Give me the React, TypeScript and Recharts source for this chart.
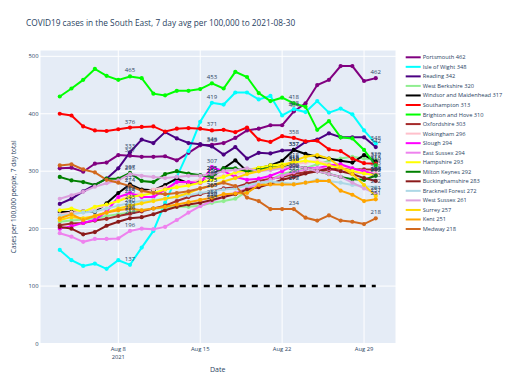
import React from "react";
import { LineChart, Line, XAxis, YAxis, CartesianGrid, LabelList } from "recharts";

// Day of August 2021
const days = [3, 4, 5, 6, 7, 8, 9, 10, 11, 12, 13, 14, 15, 16, 17, 18, 19, 20, 21, 22, 23, 24, 25, 26, 27, 28, 29, 30];

const portsmouth = [305, 306, 299, 313, 315, 328, 327, 325, 325, 326, 319, 332, 345, 346, 349, 358, 371, 374, 380, 380, 404, 418, 450, 459, 483, 483, 457, 462];
const isleOfWight = [163, 145, 135, 139, 130, 145, 137, 167, 196, 245, 290, 335, 386, 419, 416, 437, 437, 425, 431, 397, 408, 403, 422, 402, 409, 399, 371, 348];
const reading = [243, 252, 265, 276, 287, 305, 333, 355, 349, 368, 357, 349, 347, 343, 329, 342, 322, 332, 331, 336, 337, 351, 355, 366, 359, 359, 359, 342];
const westBerkshire = [212, 214, 216, 218, 222, 225, 228, 232, 235, 236, 238, 238, 240, 245, 248, 252, 265, 275, 285, 295, 300, 305, 312, 318, 322, 325, 322, 320];
const windsor = [229, 229, 230, 229, 244, 262, 277, 268, 267, 276, 287, 279, 282, 295, 305, 319, 300, 305, 310, 318, 337, 330, 325, 322, 318, 315, 328, 317];
const southampton = [400, 397, 378, 371, 370, 373, 376, 377, 378, 369, 374, 375, 374, 371, 372, 368, 376, 355, 351, 361, 358, 352, 353, 338, 335, 322, 314, 313];
const brighton = [430, 444, 459, 478, 466, 459, 465, 462, 435, 432, 440, 440, 443, 453, 444, 473, 464, 436, 422, 428, 418, 412, 372, 387, 359, 357, 337, 310];
const oxfordshire = [206, 209, 210, 214, 217, 222, 226, 230, 235, 240, 248, 255, 260, 265, 270, 272, 278, 283, 287, 290, 295, 298, 300, 302, 305, 304, 303, 303];
const wokingham = [225, 228, 230, 235, 240, 250, 258, 262, 268, 272, 275, 280, 285, 290, 292, 295, 298, 300, 305, 310, 312, 315, 318, 312, 308, 305, 300, 296];
const slough = [200, 204, 210, 215, 230, 255, 262, 255, 255, 268, 281, 281, 279, 307, 300, 290, 285, 287, 292, 300, 310, 305, 305, 310, 312, 305, 300, 294];
const eastSussex = [192, 186, 177, 182, 182, 183, 196, 200, 199, 203, 215, 228, 239, 248, 255, 262, 270, 278, 285, 292, 298, 303, 305, 304, 300, 298, 296, 294];
const hampshire = [232, 235, 229, 238, 242, 248, 255, 258, 262, 268, 272, 275, 280, 285, 290, 298, 302, 306, 310, 312, 315, 318, 315, 310, 305, 300, 296, 293];
const miltonKeynes = [290, 284, 281, 276, 287, 287, 297, 283, 281, 295, 300, 296, 293, 290, 305, 305, 300, 302, 306, 308, 310, 305, 300, 295, 290, 286, 285, 292];
const buckinghamshire = [203, 200, 190, 194, 205, 212, 218, 220, 225, 232, 238, 242, 245, 250, 255, 260, 268, 272, 278, 285, 290, 296, 300, 305, 300, 295, 288, 283];
const bracknellForest = [223, 225, 228, 230, 235, 240, 245, 248, 250, 252, 255, 258, 262, 265, 268, 270, 275, 280, 282, 280, 278, 280, 285, 283, 280, 276, 274, 272];
const westSussex = [252, 258, 264, 273, 279, 284, 295, 292, 290, 288, 290, 292, 292, 295, 300, 302, 305, 300, 302, 305, 310, 305, 300, 295, 290, 280, 270, 261];
const surrey = [215, 220, 218, 222, 228, 235, 240, 244, 248, 252, 256, 262, 270, 275, 282, 288, 295, 300, 305, 308, 318, 325, 328, 322, 307, 295, 276, 257];
const kent = [218, 225, 215, 222, 228, 232, 235, 232, 235, 238, 242, 246, 250, 254, 260, 261, 262, 276, 277, 277, 277, 280, 283, 283, 266, 259, 248, 251];
const medway = [310, 312, 303, 298, 285, 280, 274, 266, 262, 260, 262, 265, 270, 275, 280, 274, 254, 248, 234, 234, 234, 219, 214, 223, 214, 212, 208, 218];
const threshold = [100, 100, 100, 100, 100, 100, 100, 100, 100, 100, 100, 100, 100, 100, 100, 100, 100, 100, 100, 100, 100, 100, 100, 100, 100, 100, 100, 100];

const seriesNames = [
  "Portsmouth", "Isle of Wight", "Reading", "West Berkshire", "Windsor and Maidenhead",
  "Southampton", "Brighton and Hove", "Oxfordshire", "Wokingham", "Slough", "East Sussex",
  "Hampshire", "Milton Keynes", "Buckinghamshire", "Bracknell Forest", "West Sussex",
  "Surrey", "Kent", "Medway",
];
const seriesValues = [
  portsmouth, isleOfWight, reading, westBerkshire, windsor, southampton, brighton,
  oxfordshire, wokingham, slough, eastSussex, hampshire, miltonKeynes, buckinghamshire,
  bracknellForest, westSussex, surrey, kent, medway,
];
const seriesColors = [
  "#800080", "#00FFFF", "#4B0082", "#90EE90", "#000000", "#FF0000", "#00FF00",
  "#A52A2A", "#FFC0CB", "#FF00FF", "#EE82EE", "#FFFF00", "#008000", "#8B1A1A",
  "#ADD8E6", "#DDA0DD", "#FFD700", "#FFA500", "#D2691E",
];
const xTicks = [8, 15, 22, 29];
const yTicks = [0, 100, 200, 300, 400, 500];
const labelledIndices = [6, 13, 20, 27];

const FONT = '"Open Sans", verdana, arial, sans-serif';
const TEXT = "#2a3f5f";

const data = days.map((d, i) => {
  const row: Record<string, number> = { day: d, threshold: threshold[i] };
  seriesValues.forEach((vals, s) => {
    row["s" + s] = vals[i];
  });
  return row;
});

const pointLabel = (props: any) => {
  const { x, y, value, index } = props;
  if (!labelledIndices.includes(index)) return null;
  return (
    <text x={x} y={y - 4} textAnchor="middle" fontSize={6} fontFamily={FONT} fill={TEXT}>
      {value}
    </text>
  );
};

const XTick = (props: any) => {
  const { x, y, payload } = props;
  return (
    <g>
      <text x={x} y={y + 7} textAnchor="middle" fontSize={5.8} fontFamily={FONT} fill={TEXT}>
        {"Aug " + payload.value}
      </text>
      {payload.value === 8 ? (
        <text x={x} y={y + 15} textAnchor="middle" fontSize={5.8} fontFamily={FONT} fill={TEXT}>
          2021
        </text>
      ) : null}
    </g>
  );
};

const YTick = (props: any) => {
  const { x, y, payload } = props;
  return (
    <text x={x} y={y + 2} textAnchor="end" fontSize={5.8} fontFamily={FONT} fill={TEXT}>
      {payload.value}
    </text>
  );
};

export default function App() {
  return (
    <div style={{ position: "absolute", left: 0, top: 0, width: 512, height: 384, background: "#fff" }}>
      <div
        style={{
          position: "absolute", left: 26, top: 17, fontFamily: FONT, fontSize: 8.3,
          color: TEXT, whiteSpace: "nowrap", lineHeight: "11px",
        }}
      >
        COVID19 cases in the South East, 7 day avg per 100,000 to 2021-08-30
      </div>
      <LineChart
        width={512}
        height={384}
        data={data}
        margin={{ top: 50, right: 116, bottom: 0, left: 0 }}
      >
        <CartesianGrid fill="#E5ECF6" stroke="#ffffff" strokeWidth={1} />
        <XAxis
          dataKey="day"
          type="number"
          domain={[1.31, 31.73]}
          ticks={xTicks}
          height={40.5}
          axisLine={false}
          tickLine={false}
          tickSize={0}
          tickMargin={0}
          tick={<XTick />}
          interval={0}
        />
        <YAxis
          type="number"
          domain={[0, 511]}
          ticks={yTicks}
          width={40}
          axisLine={false}
          tickLine={false}
          tickSize={0}
          tickMargin={1.5}
          tick={<YTick />}
          interval={0}
        />
        {seriesValues.map((_, s) => (
          <Line
            key={s}
            dataKey={"s" + s}
            stroke={seriesColors[s]}
            strokeWidth={2}
            dot={{ r: 2.1, fill: seriesColors[s], stroke: seriesColors[s], strokeWidth: 0 }}
            isAnimationActive={false}
          >
            <LabelList dataKey={"s" + s} content={pointLabel} />
          </Line>
        ))}
        <Line
          dataKey="threshold"
          stroke="#000000"
          strokeWidth={2.4}
          strokeDasharray="6 6"
          dot={false}
          isAnimationActive={false}
        />
      </LineChart>
      <svg style={{ position: "absolute", left: 0, top: 0 }} width={512} height={384}>
        <text
          x={14}
          y={196.8}
          transform="rotate(-90 14 196.8)"
          textAnchor="middle"
          dominantBaseline="middle"
          fontSize={6.5}
          fontFamily={FONT}
          fill={TEXT}
        >
          Cases per 100,000 people, 7 day total
        </text>
        <text x={217.7} y={372} textAnchor="middle" fontSize={7} fontFamily={FONT} fill={TEXT}>
          Date
        </text>
        {seriesNames.map((name, i) => {
          const cy = 57.3 + i * 9.54;
          const vals = seriesValues[i];
          return (
            <g key={name}>
              <line x1={405.7} x2={420.7} y1={cy} y2={cy} stroke={seriesColors[i]} strokeWidth={2} />
              <text x={422.7} y={cy + 2} fontSize={5.7} fontFamily={FONT} fill={TEXT}>
                {name + " " + vals[vals.length - 1]}
              </text>
            </g>
          );
        })}
      </svg>
    </div>
  );
}
